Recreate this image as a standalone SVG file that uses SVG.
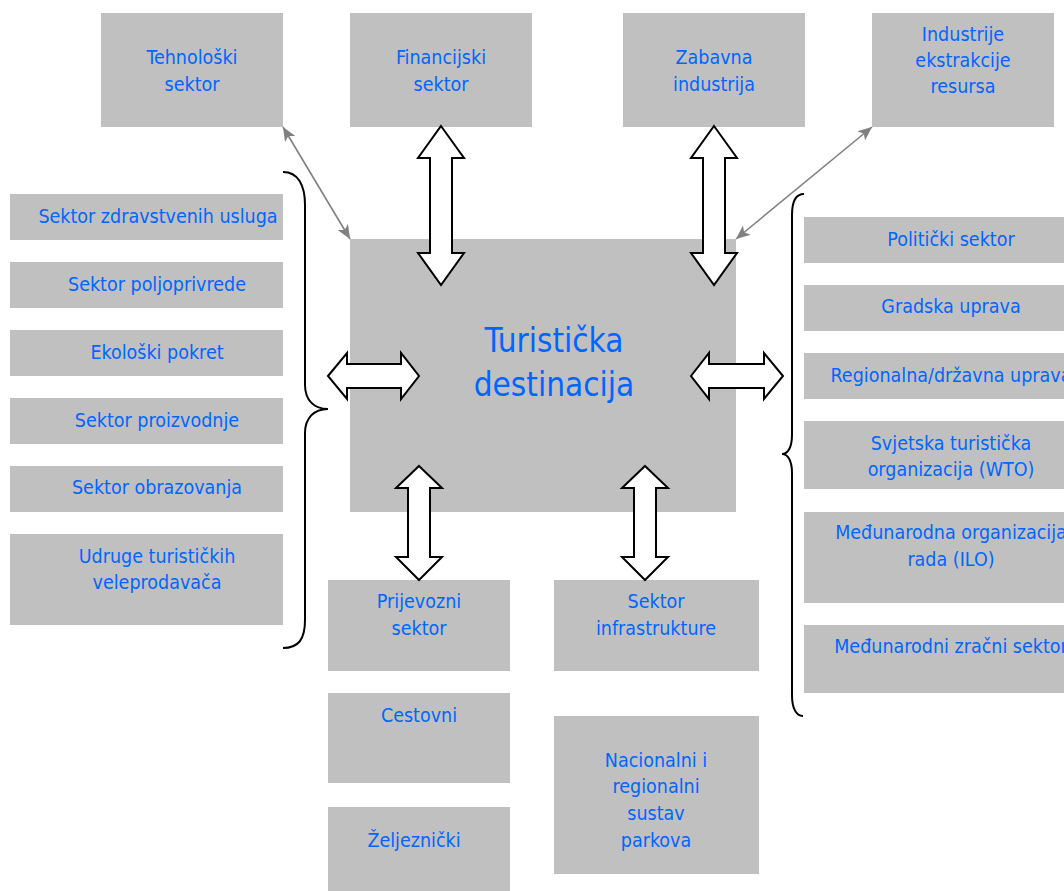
<svg xmlns="http://www.w3.org/2000/svg" width="1064" height="891" viewBox="0 0 1064 891">
<style>
.box{fill:#c0c0c0;}
.t{font-family:"DejaVu Sans Condensed","DejaVu Sans",sans-serif;font-size:19.5px;fill:#0066ff;text-anchor:middle;}
.big{font-size:33px;}
.blk{fill:#ffffff;stroke:#000000;stroke-width:2;stroke-linejoin:miter;}
.brace{fill:none;stroke:#000000;stroke-width:2;}
.thin{stroke:#808080;stroke-width:1.6;fill:none;marker-start:url(#ga);marker-end:url(#ga);}
</style>
<defs>
<marker id="ga" viewBox="0 0 14 12" refX="14" refY="6" markerWidth="14" markerHeight="12" markerUnits="userSpaceOnUse" orient="auto-start-reverse">
<path d="M0,0 L14,6 L0,12 L3.5,6 Z" fill="#808080"/>
</marker>
</defs>
<rect width="1064" height="891" fill="#ffffff"/>

<g id="tehnoloski"><rect class="box" x="101" y="13" width="182" height="114"/><text class="t" x="192" y="64">Tehnološki</text><text class="t" x="192" y="91">sektor</text></g>
<g id="financijski"><rect class="box" x="350" y="13" width="182" height="114"/><text class="t" x="441" y="64">Financijski</text><text class="t" x="441" y="91">sektor</text></g>
<g id="zabavna"><rect class="box" x="623" y="13" width="182" height="114"/><text class="t" x="714" y="64">Zabavna</text><text class="t" x="714" y="91">industrija</text></g>
<g id="industrije"><rect class="box" x="872" y="13" width="182" height="114"/><text class="t" x="963" y="41">Industrije</text><text class="t" x="963" y="67">ekstrakcije</text><text class="t" x="963" y="93">resursa</text></g>

<g id="destinacija"><rect class="box" x="350" y="239" width="386" height="273"/><text class="t big" x="554" y="352">Turistička</text><text class="t big" x="554" y="396">destinacija</text></g>

<g id="zdravstvo"><rect class="box" x="10" y="194" width="273" height="46"/><text class="t" x="158" y="223">Sektor zdravstvenih usluga</text></g>
<g id="poljoprivreda"><rect class="box" x="10" y="262" width="273" height="46"/><text class="t" x="157" y="291">Sektor poljoprivrede</text></g>
<g id="ekoloski"><rect class="box" x="10" y="330" width="273" height="46"/><text class="t" x="157" y="359">Ekološki pokret</text></g>
<g id="proizvodnja"><rect class="box" x="10" y="398" width="273" height="46"/><text class="t" x="157" y="427">Sektor proizvodnje</text></g>
<g id="obrazovanje"><rect class="box" x="10" y="466" width="273" height="46"/><text class="t" x="157" y="494">Sektor obrazovanja</text></g>
<g id="udruge"><rect class="box" x="10" y="534" width="273" height="91"/><text class="t" x="157" y="563">Udruge turističkih</text><text class="t" x="157" y="589">veleprodavača</text></g>

<g id="politicki"><rect class="box" x="804" y="217" width="294" height="46"/><text class="t" x="951" y="246">Politički sektor</text></g>
<g id="gradska"><rect class="box" x="804" y="285" width="294" height="46"/><text class="t" x="951" y="313">Gradska uprava</text></g>
<g id="regionalna"><rect class="box" x="804" y="353" width="294" height="46"/><text class="t" x="951" y="382">Regionalna/državna uprava</text></g>
<g id="wto"><rect class="box" x="804" y="421" width="294" height="68"/><text class="t" x="951" y="450">Svjetska turistička</text><text class="t" x="951" y="476">organizacija (WTO)</text></g>
<g id="ilo"><rect class="box" x="804" y="512" width="294" height="91"/><text class="t" x="951" y="539">Međunarodna organizacija</text><text class="t" x="951" y="566">rada (ILO)</text></g>
<g id="zracni"><rect class="box" x="804" y="625" width="294" height="68"/><text class="t" x="951" y="653">Međunarodni zračni sektor</text></g>

<g id="prijevozni"><rect class="box" x="328" y="580" width="182" height="91"/><text class="t" x="419" y="608">Prijevozni</text><text class="t" x="419" y="635">sektor</text></g>
<g id="cestovni"><rect class="box" x="328" y="693" width="182" height="90"/><text class="t" x="419" y="722">Cestovni</text></g>
<g id="zeljeznicki"><rect class="box" x="328" y="807" width="182" height="84"/><text class="t" x="414" y="847">Željeznički</text></g>
<g id="infrastruktura"><rect class="box" x="554" y="580" width="205" height="91"/><text class="t" x="656" y="608">Sektor</text><text class="t" x="656" y="635">infrastrukture</text></g>
<g id="parkovi"><rect class="box" x="554" y="716" width="205" height="158"/><text class="t" x="656" y="767">Nacionalni i</text><text class="t" x="656" y="793">regionalni</text><text class="t" x="656" y="820">sustav</text><text class="t" x="656" y="847">parkova</text></g>

<g id="connectors">
<line class="thin" x1="283" y1="127" x2="350" y2="239"/>
<line class="thin" x1="872" y1="127" x2="736" y2="239"/>
<polygon class="blk" points="441,126 464,158 452,158 452,253 464,253 441,285 418,253 430,253 430,158 418,158"/>
<polygon class="blk" points="714,126 737,158 725,158 725,253 737,253 714,285 691,253 703,253 703,158 691,158"/>
<polygon class="blk" points="419,466 442,488 430,488 430,557 442,557 419,580 396,557 408,557 408,488 396,488"/>
<polygon class="blk" points="645,466 668,488 656,488 656,557 668,557 645,580 622,557 634,557 634,488 622,488"/>
<polygon class="blk" points="328,376 347,353 347,364 401,364 401,353 419,376 401,399 401,388 347,388 347,399"/>
<polygon class="blk" points="691,376 709,353 709,364 764,364 764,353 783,376 764,399 764,388 709,388 709,399"/>
<path class="brace" d="M283,172 C298,172 305,185 305,205 L305,385 C305,400 314,409 328,409 C314,409 305,418 305,433 L305,620 C305,640 298,648 283,648"/>
<path class="brace" d="M804,194 C796,194 792,202 792,215 L792,435 C792,447 788,454 782,454 C788,454 792,461 792,473 L792,695 C792,708 796,716 803,716"/>
</g>
</svg>
